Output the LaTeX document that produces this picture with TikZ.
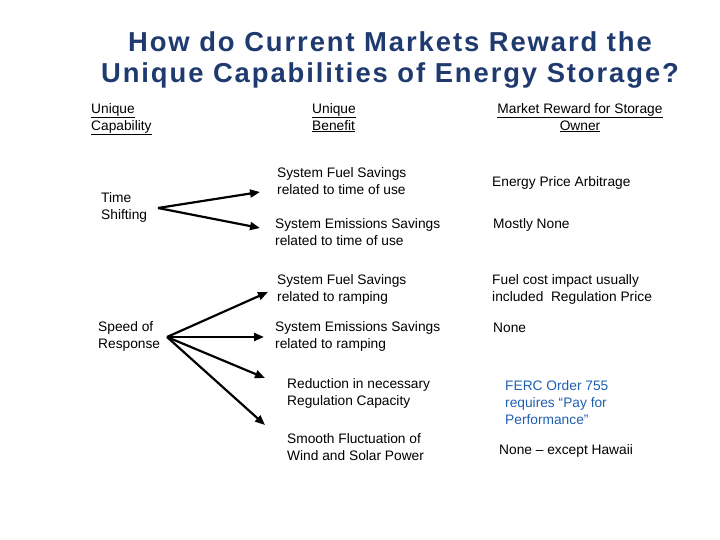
\documentclass[tikz,border=0pt]{standalone}
\usepackage{fontspec}
\setmainfont{Liberation Sans}
\usetikzlibrary{arrows.meta}
\definecolor{ttl}{HTML}{1F3A6E}
\definecolor{ferc}{HTML}{1F5FB0}
\begin{document}
\begin{tikzpicture}[x=1bp,y=-1bp,
  txt/.style={anchor=north west,inner sep=0pt,align=left,font=\fontsize{13.8}{17}\selectfont},
  arr/.style={line width=2.2pt,-{Triangle[length=10pt,width=8pt]}}]
\useasboundingbox (0,0) rectangle (720,540);
\node[font=\fontsize{27.5}{32}\selectfont\bfseries\addfontfeature{LetterSpace=7},color=ttl,align=center,inner sep=0] (title) at (390,60)
  {How do Current Markets Reward the\\Unique Capabilities of Energy Storage?};
\node[txt] (h1) at (91,103) {\underline{Unique}\\\underline{Capability}};
\node[txt] (h2) at (312,103) {\underline{Unique}\\\underline{Benefit}};
\node[txt,align=center,anchor=north] (h3) at (580,103) {\underline{Market Reward for Storage}\\\underline{Owner}};
\node[txt] (ts) at (101,192) {Time\\Shifting};
\node[txt] (sr) at (98,321) {Speed of\\Response};
\node[txt] (b1) at (277,167) {System Fuel Savings\\related to time of use};
\node[txt] (b2) at (275,218) {System Emissions Savings\\related to time of use};
\node[txt] (b3) at (277,274) {System Fuel Savings\\related to ramping};
\node[txt] (b4) at (275,321) {System Emissions Savings\\related to ramping};
\node[txt] (b5) at (287,378) {Reduction in necessary\\Regulation Capacity};
\node[txt] (b6) at (287,433) {Smooth Fluctuation of\\Wind and Solar Power};
\node[txt] (r1) at (492,176) {Energy Price Arbitrage};
\node[txt] (r2) at (493,218) {Mostly None};
\node[txt] (r3) at (492,274) {Fuel cost impact usually\\included\ \ Regulation Price};
\node[txt] (r4) at (493,323) {None};
\node[txt,color=ferc] (r5) at (505,380) {FERC Order 755\\requires “Pay for\\Performance”};
\node[txt] (r6) at (499,444) {None – except Hawaii};
\coordinate (tsO) at (158,208);
\coordinate (srO) at (167,337);
\draw[arr] (tsO) -- (260,192);
\draw[arr] (tsO) -- (260,228);
\draw[arr] (srO) -- (268,292);
\draw[arr] (srO) -- (264,337);
\draw[arr] (srO) -- (265,378);
\draw[arr] (srO) -- (265,425);
\end{tikzpicture}
\end{document}
